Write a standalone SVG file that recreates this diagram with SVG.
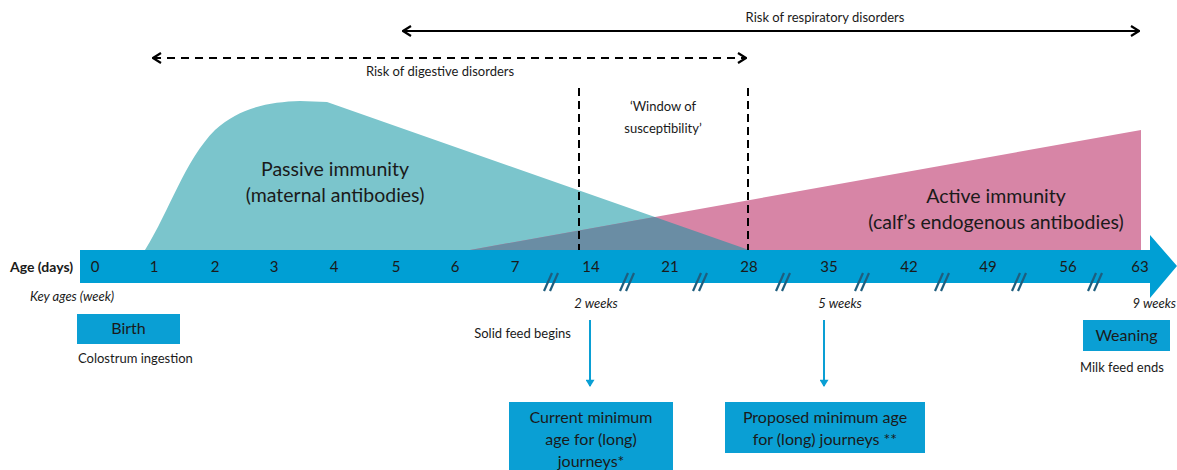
<svg xmlns="http://www.w3.org/2000/svg" width="1177" height="470" viewBox="0 0 1177 470">
  <defs>
    <style>
      text { font-family: Lato, "Open Sans", "Liberation Sans", sans-serif; fill: #1a1a1a; }
      .axis { font-size: 15px; text-anchor: middle; }
      .small { font-size: 13px; }
      .ital { font-size: 13px; font-style: italic; }
      .big { font-size: 19.5px; text-anchor: middle; }
      .box { fill: #0A9FD4; }
      .boxtxt { font-size: 16px; text-anchor: middle; }
      .brk { stroke: #1E5E7E; stroke-width: 2.2; }
      .vdash { stroke: #000; stroke-width: 2; stroke-dasharray: 8 5; fill: none; }
      .lead { stroke: #0A9FD4; stroke-width: 2; }
    </style>
    <marker id="chev" viewBox="0 0 10 12" refX="9" refY="6" markerWidth="10" markerHeight="12" markerUnits="userSpaceOnUse" orient="auto-start-reverse">
      <path d="M1,1 L9,6 L1,11" fill="none" stroke="#000" stroke-width="2.2"/>
    </marker>
    <marker id="tip" viewBox="0 0 10 10" refX="5" refY="9" markerWidth="9" markerHeight="9" markerUnits="userSpaceOnUse" orient="0">
      <path d="M0,2 L10,2 L5,10 Z" fill="#0A9FD4"/>
    </marker>
    <clipPath id="passiveClip">
      <path d="M145,250 C170,210 185,160 215,130 C240,107 270,102 300,101 L327,102 L749,250 Z"/>
    </clipPath>
  </defs>

  <!-- immunity curves -->
  <g id="passive-immunity">
    <path d="M145,250 C170,210 185,160 215,130 C240,107 270,102 300,101 L327,102 L749,250 Z" fill="#7BC5CC"/>
  </g>
  <g id="active-immunity">
    <path d="M470,250 L1141,130 L1141,250 Z" fill="#D785A6"/>
    <path d="M470,250 L1141,130 L1141,250 Z" fill="#6A8DA4" clip-path="url(#passiveClip)"/>
  </g>
  <g id="labels-immunity">
    <text class="big" x="335" y="176">Passive immunity</text>
    <text class="big" x="335" y="202">(maternal antibodies)</text>
    <text class="big" x="996" y="203" font-size="18.5">Active immunity</text>
    <text class="big" x="996" y="229" font-size="18.5">(calf’s endogenous antibodies)</text>
  </g>

  <!-- window of susceptibility -->
  <g id="window">
    <line class="vdash" x1="579" y1="88" x2="579" y2="250"/>
    <line class="vdash" x1="748" y1="88" x2="748" y2="250"/>
    <text class="small" x="663" y="111" text-anchor="middle">‘Window of</text>
    <text class="small" x="663" y="133" text-anchor="middle">susceptibility’</text>
  </g>

  <!-- risk ranges -->
  <g id="connectors">
    <line x1="403" y1="31" x2="1139" y2="31" stroke="#000" stroke-width="2.2" marker-start="url(#chev)" marker-end="url(#chev)"/>
    <line x1="153" y1="58" x2="746" y2="58" stroke="#000" stroke-width="2.2" stroke-dasharray="8 6" marker-start="url(#chev)" marker-end="url(#chev)"/>
    <line class="lead" x1="590" y1="320" x2="590" y2="386" marker-end="url(#tip)"/>
    <line class="lead" x1="824" y1="320" x2="824" y2="386" marker-end="url(#tip)"/>
  </g>
  <g id="risk-labels">
    <text class="small" x="825" y="22" text-anchor="middle">Risk of respiratory disorders</text>
    <text class="small" x="440" y="76" text-anchor="middle">Risk of digestive disorders</text>
  </g>

  <!-- age axis -->
  <g id="axis">
    <path d="M80,250 L1150,250 L1150,235 L1177,266 L1150,298 L1150,283 L80,283 Z" fill="#009FD4"/>
    <text x="10" y="272" font-size="14" font-weight="bold">Age (days)</text>
    <text class="axis" x="95" y="272">0</text>
    <text class="axis" x="154" y="272">1</text>
    <text class="axis" x="215" y="272">2</text>
    <text class="axis" x="274" y="272">3</text>
    <text class="axis" x="334" y="272">4</text>
    <text class="axis" x="396" y="272">5</text>
    <text class="axis" x="455" y="272">6</text>
    <text class="axis" x="515" y="272">7</text>
    <text class="axis" x="591" y="272">14</text>
    <text class="axis" x="670" y="272">21</text>
    <text class="axis" x="749" y="272">28</text>
    <text class="axis" x="829" y="272">35</text>
    <text class="axis" x="909" y="272">42</text>
    <text class="axis" x="988" y="272">49</text>
    <text class="axis" x="1068" y="272">56</text>
    <text class="axis" x="1140" y="272">63</text>
  </g>
  <g id="breaks">
    <g class="brk">
      <line x1="544" y1="291" x2="552" y2="273"/><line x1="550" y1="291" x2="558" y2="273"/>
      <line x1="620" y1="291" x2="628" y2="273"/><line x1="626" y1="291" x2="634" y2="273"/>
      <line x1="693" y1="291" x2="701" y2="273"/><line x1="699" y1="291" x2="707" y2="273"/>
      <line x1="776" y1="291" x2="784" y2="273"/><line x1="782" y1="291" x2="790" y2="273"/>
      <line x1="855" y1="291" x2="863" y2="273"/><line x1="861" y1="291" x2="869" y2="273"/>
      <line x1="935" y1="291" x2="943" y2="273"/><line x1="941" y1="291" x2="949" y2="273"/>
      <line x1="1012" y1="291" x2="1020" y2="273"/><line x1="1018" y1="291" x2="1026" y2="273"/>
      <line x1="1088" y1="291" x2="1096" y2="273"/><line x1="1094" y1="291" x2="1102" y2="273"/>
    </g>
  </g>

  <!-- key ages -->
  <g id="key-ages">
    <text class="ital" x="30" y="301">Key ages (week)</text>
    <text class="ital" x="596" y="308" text-anchor="middle">2 weeks</text>
    <text class="ital" x="840" y="308" text-anchor="middle">5 weeks</text>
    <text class="ital" x="1176" y="308" text-anchor="end">9 weeks</text>
  </g>

  <g id="birth">
    <rect class="box" x="77" y="314" width="103" height="30"/>
    <text class="boxtxt" x="128.5" y="334">Birth</text>
    <text class="small" x="78" y="363">Colostrum ingestion</text>
  </g>

  <g id="solid-feed">
    <text class="small" x="571" y="338" text-anchor="end">Solid feed begins</text>
  </g>

  <g id="current-minimum">
    <rect class="box" x="509" y="402" width="164" height="70"/>
    <text class="boxtxt" x="591" y="423">Current minimum</text>
    <text class="boxtxt" x="591" y="445">age for (long)</text>
    <text class="boxtxt" x="591" y="467">journeys*</text>
  </g>

  <g id="proposed-minimum">
    <rect class="box" x="725" y="402" width="200" height="51"/>
    <text class="boxtxt" x="825" y="423">Proposed minimum age</text>
    <text class="boxtxt" x="825" y="445">for (long) journeys **</text>
  </g>

  <g id="weaning">
    <rect class="box" x="1083" y="320" width="87" height="31"/>
    <text class="boxtxt" x="1126.5" y="341" font-size="16.5">Weaning</text>
    <text class="small" x="1080" y="372">Milk feed ends</text>
  </g>
</svg>
